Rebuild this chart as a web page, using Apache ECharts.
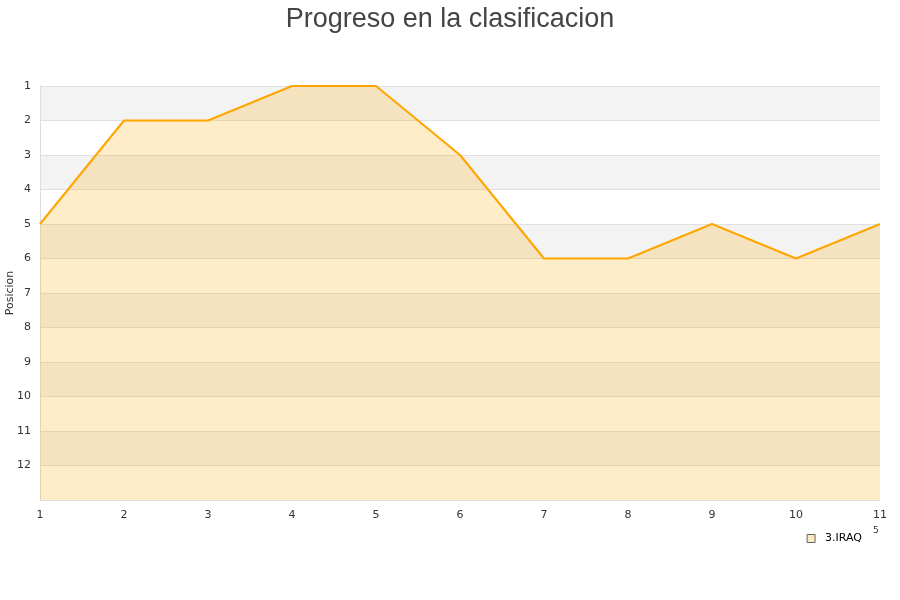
<!DOCTYPE html>
<html><head><meta charset="utf-8">
<script src="https://cdn.jsdelivr.net/npm/echarts@6/dist/echarts.min.js"></script>
<style>html,body{margin:0;padding:0;background:#fff}#c{width:900px;height:600px}</style>
</head><body><div id="c"></div>
<script>
var jornadas = [1,2,3,4,5,6,7,8,9,10,11];
var posiciones = [5,2,2,1,1,3,6,6,5,6,5];
var yTicks = [1,2,3,4,5,6,7,8,9,10,11,12];
var seriesName = '3.IRAQ';
var titleText = 'Progreso en la clasificacion';
var yName = 'Posicion';

var chart = echarts.init(document.getElementById('c'));
chart.setOption({
  animation: false,
  title: {text: titleText, left: 'center', top: 1,
    textStyle: {fontFamily: 'Liberation Sans', fontSize: 27, fontWeight: 'normal', color: '#444'}},
  legend: {data: [{name: seriesName, icon: 'rect'}], right: 33, top: 528, itemWidth: 8, itemHeight: 8,
    itemStyle: {color: '#fde8c4', borderColor: '#666', borderWidth: 1},
    textStyle: {fontFamily: 'DejaVu Sans', fontSize: 11, color: '#000', padding: [0,0,0,5]}},
  grid: {left: 40, right: 20, top: 86, bottom: 100, containLabel: false, outerBoundsMode: 'none'},
  xAxis: {type: 'value', min: 1, max: 11, interval: 1,
    axisLine: {show: true, lineStyle: {color: '#ddd'}},
    axisTick: {show: false}, splitLine: {show: false},
    axisLabel: {fontFamily: 'DejaVu Sans', fontSize: 11, color: '#333', margin: 10}},
  yAxis: {type: 'value', inverse: true, min: 1, max: 13, interval: 1,
    name: yName, nameLocation: 'middle', nameGap: 30, nameRotate: 90, nameMoveOverlap: false,
    nameTextStyle: {fontFamily: 'DejaVu Sans', fontSize: 11, color: '#333', verticalAlign: 'middle'},
    axisLine: {show: true, lineStyle: {color: '#ddd'}},
    axisTick: {show: false},
    axisLabel: {fontFamily: 'DejaVu Sans', fontSize: 11, color: '#333', margin: 9,
      formatter: function(v){ return yTicks.indexOf(v) >= 0 ? String(v) : ''; }},
    splitLine: {show: true, lineStyle: {color: '#e0e0e0'}},
    splitArea: {show: true, areaStyle: {color: ['#f3f3f3', '#ffffff']}}},
  graphic: [{type: 'text', left: 873, top: 526, style: {text: '5', fontSize: 9, fill: '#333', fontFamily: 'DejaVu Sans'}}],
  series: [{
    name: seriesName, type: 'line',
    data: jornadas.map(function(j, i){ return [j, posiciones[i]]; }),
    showSymbol: false, symbol: 'none',
    lineStyle: {color: '#ffa500', width: 2},
    itemStyle: {color: '#fde8c4', borderColor: '#666', borderWidth: 1},
    areaStyle: {color: 'rgba(255,165,0,0.21)', opacity: 1, origin: 'end'}
  }]
});
</script></body></html>
